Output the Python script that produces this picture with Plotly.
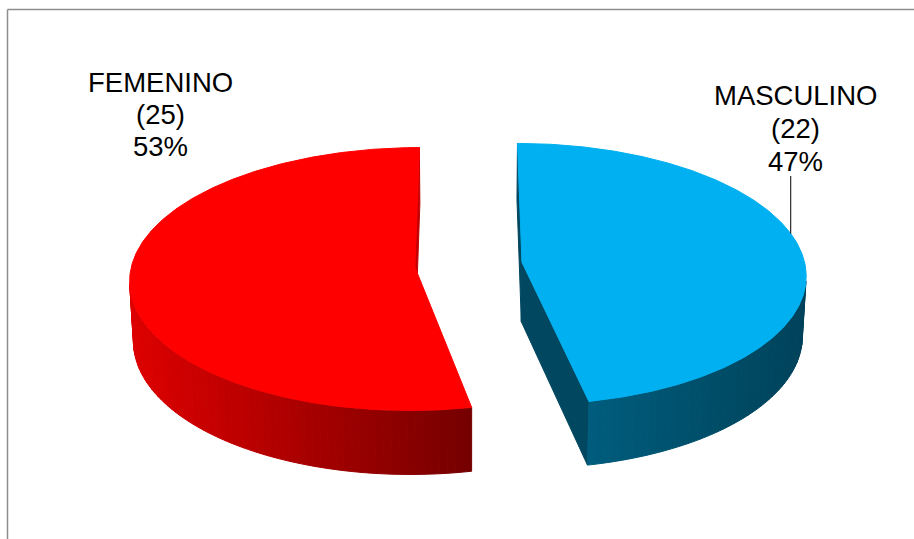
import numpy as np
import plotly.graph_objects as go

# ---- data ----
labels = ["MASCULINO", "FEMENINO"]
counts = [22, 25]

# ---- styles ----
top_colors = ["#00B0F0", "#FF0000"]
wall_left = [(0, 92, 124), (222, 0, 0)]
wall_right = [(0, 66, 90), (118, 0, 0)]
cut_colors = ["#00475F", "#C40000"]

# ---- projection (pseudo-3D camera) ----
S = 0.459
C = float(np.sqrt(1 - S * S))
D = 9.77
F = 2766.0
X0, Y0 = 468.5, 264.6
EXPLODE = 0.19
H = 0.24
CAM = np.array([0.0, -D * C, D * S])


def project(X, Y, Z):
    X = np.asarray(X, float); Y = np.asarray(Y, float); Z = np.asarray(Z, float)
    v = Y * S + Z * C
    w = Y * C - Z * S
    k = F / (D + w)
    return X0 + k * X, Y0 - k * v


def hexc(rgb):
    return "#%02X%02X%02X" % tuple(int(round(c)) for c in rgb)


fig = go.Figure()


def poly(xs, ys, color):
    xs = list(xs) + [xs[0]]
    ys = list(ys) + [ys[0]]
    fig.add_trace(go.Scatter(x=xs, y=ys, mode="lines", fill="toself",
                             fillcolor=color, line=dict(color=color, width=1),
                             hoverinfo="skip", showlegend=False))


total = sum(counts)
start = 0.0
slices = []
for i, c in enumerate(counts):
    t0 = start
    t1 = start + 2 * np.pi * c / total
    start = t1
    tm = (t0 + t1) / 2
    ox, oy = EXPLODE * np.sin(tm), EXPLODE * np.cos(tm)
    slices.append((t0, t1, ox, oy))

for i, (t0, t1, ox, oy) in enumerate(slices):
    # radial cut faces
    for t, n in ((t0, np.array([-np.cos(t0), np.sin(t0), 0])),
                 (t1, np.array([np.cos(t1), -np.sin(t1), 0]))):
        pmid = np.array([ox + 0.5 * np.sin(t), oy + 0.5 * np.cos(t), -H / 2])
        if np.dot(n, CAM - pmid) > 0:
            Xs = [ox, ox + np.sin(t), ox + np.sin(t), ox]
            Ys = [oy, oy + np.cos(t), oy + np.cos(t), oy]
            Zs = [0, 0, -H, -H]
            sx, sy = project(Xs, Ys, Zs)
            poly(sx, sy, cut_colors[i])
    # outer wall
    nseg = int(np.ceil((t1 - t0) / np.radians(1.5)))
    ts = np.linspace(t0, t1, nseg + 1)
    segs = []
    for a, b in zip(ts[:-1], ts[1:]):
        m = (a + b) / 2
        n = np.array([np.sin(m), np.cos(m), 0])
        p = np.array([ox + np.sin(m), oy + np.cos(m), -H / 2])
        if np.dot(n, CAM - p) > 0:
            tt = np.linspace(a, b, 4)
            Xs = np.concatenate([ox + np.sin(tt), ox + np.sin(tt[::-1])])
            Ys = np.concatenate([oy + np.cos(tt), oy + np.cos(tt[::-1])])
            Zs = np.concatenate([np.zeros(4), -H * np.ones(4)])
            sx, sy = project(Xs, Ys, Zs)
            segs.append((sx, sy, sx.mean()))
    if segs:
        xm = [s[2] for s in segs]
        lo, hi = min(xm), max(xm)
        for sx, sy, mx in segs:
            f = (mx - lo) / (hi - lo) if hi > lo else 0
            col = [wall_left[i][k] + (wall_right[i][k] - wall_left[i][k]) * f for k in range(3)]
            poly(sx, sy, hexc(col))
    # top face
    tt = np.linspace(t0, t1, 400)
    Xs = np.concatenate([[ox], ox + np.sin(tt)])
    Ys = np.concatenate([[oy], oy + np.cos(tt)])
    sx, sy = project(Xs, Ys, np.zeros(len(Xs)))
    poly(sx, sy, top_colors[i])

# ---- labels ----
FONT = dict(family="Liberation Sans, Arial, sans-serif", size=27.5, color="#000000")
label_pos = [(795.5, [95, 128, 161]), (160.5, [82.5, 114.5, 146.5])]
for i, (lab, c) in enumerate(zip(labels, counts)):
    pct = "%d%%" % round(100 * c / total)
    lines = [lab, "(%d)" % c, pct]
    x, ys = label_pos[i]
    for txt, y in zip(lines, ys):
        fig.add_annotation(x=x, y=y, xref="x", yref="y", text=txt, showarrow=False,
                           xanchor="center", yanchor="middle", font=FONT)

# leader line for MASCULINO
t0, t1, ox, oy = slices[0]
lt = np.radians(77)
lx, ly = project(ox + np.sin(lt), oy + np.cos(lt), 0.0)
fig.add_shape(type="line", x0=float(lx), x1=float(lx), y0=176, y1=float(ly),
              xref="x", yref="y", line=dict(color="#000000", width=1))

# ---- chart border (top and left) ----
fig.add_shape(type="line", x0=7.5, x1=914, y0=9.5, y1=9.5, xref="x", yref="y",
              line=dict(color="#8E8E8E", width=1.5))
fig.add_shape(type="line", x0=7.5, x1=7.5, y0=9.5, y1=539, xref="x", yref="y",
              line=dict(color="#8E8E8E", width=1.5))

fig.update_layout(
    width=914, height=539, autosize=False,
    margin=dict(l=0, r=0, t=0, b=0),
    paper_bgcolor="#FFFFFF", plot_bgcolor="#FFFFFF",
    xaxis=dict(range=[0, 914], visible=False, fixedrange=True),
    yaxis=dict(range=[539, 0], visible=False, fixedrange=True),
    showlegend=False,
)
fig.write_html("out.html", config={"displayModeBar": False})
